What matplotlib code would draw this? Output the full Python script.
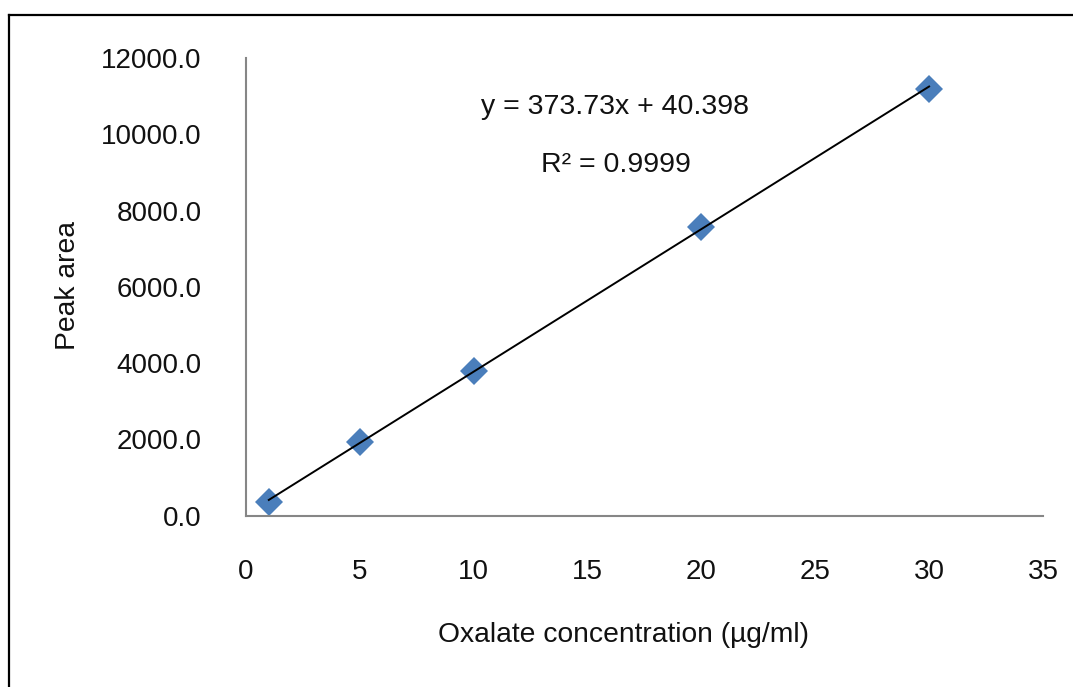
import matplotlib.pyplot as plt
from matplotlib.lines import Line2D
import numpy as np

plt.rcParams['font.family'] = ['Liberation Sans', 'DejaVu Sans']

# calibration data
conc = [1, 5, 10, 20, 30]
peak_area = [365, 1932, 3804, 7564, 11175]

# trendline as printed on the chart
slope = 373.73
intercept = 40.398
eq_text = 'y = 373.73x + 40.398'
r2_text = 'R² = 0.9999'

x_ticks = [0, 5, 10, 15, 20, 25, 30, 35]
y_ticks = [0, 2000, 4000, 6000, 8000, 10000, 12000]

fig = plt.figure(figsize=(10.73, 6.87), dpi=100)
ax = fig.add_axes([0.2293, 0.2493, 0.7427, 0.6663])

# trend line
x_fit = np.array([min(conc), max(conc)])
ax.plot(x_fit, slope * x_fit + intercept, color='black', linewidth=1.4, zorder=3)

# data points
ax.plot(conc, peak_area, linestyle='none', marker='D', markersize=14,
        color='#4A7EBB', markeredgewidth=0, zorder=2)

ax.set_xlim(0, 35)
ax.set_ylim(0, 12000)
ax.set_xticks(x_ticks)
ax.set_yticks(y_ticks)
ax.set_yticklabels([f'{v:.1f}' for v in y_ticks])
ax.tick_params(length=0, labelsize=20, colors='#111111')
ax.tick_params(axis='y', pad=32)
ax.tick_params(axis='x', pad=31)

for side in ['top', 'right']:
    ax.spines[side].set_visible(False)
for side in ['left', 'bottom']:
    ax.spines[side].set_color('#868686')
    ax.spines[side].set_linewidth(1.5)

ax.set_xlabel('Oxalate concentration (µg/ml)', fontsize=20.3, color='#111111')
ax.set_ylabel('Peak area', fontsize=20.3, color='#111111')
ax.xaxis.set_label_coords(623 / 1073, 1 - 635 / 687, transform=fig.transFigure)
ax.yaxis.set_label_coords(68 / 1073, 1 - 286 / 687, transform=fig.transFigure)
ax.xaxis.label.set_va('center')
ax.yaxis.label.set_va('center')

ax.text(615 / 1073, 1 - 107 / 687, eq_text, transform=fig.transFigure,
        fontsize=20.5, ha='center', va='center', color='#111111')
ax.text(616 / 1073, 1 - 165 / 687, r2_text, transform=fig.transFigure,
        fontsize=20.5, ha='center', va='center', color='#111111')

# frame around the chart (cut off at right and bottom)
bx = 8.5 / 1073
by = 1 - 14.5 / 687
fig.add_artist(Line2D([bx, bx], [0, by], color='black', linewidth=1.6))
fig.add_artist(Line2D([bx, 1], [by, by], color='black', linewidth=1.6))

fig.savefig('out.png', dpi=100)
